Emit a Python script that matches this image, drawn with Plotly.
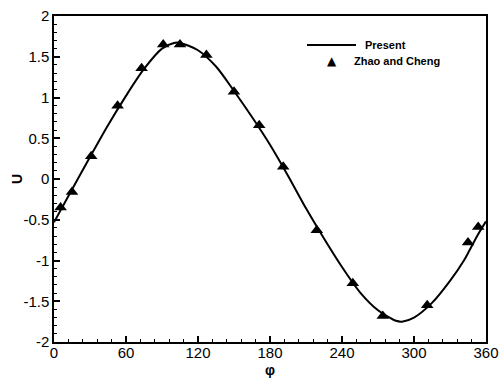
import plotly.graph_objects as go

# Present (solid curve)
present_phi = [0, 15, 30, 45, 60, 75, 90, 100, 105, 120, 135, 150, 165, 180, 195,
               210, 225, 240, 255, 270, 285, 290, 300, 315, 330, 342, 345, 353, 360]
present_u = [-0.53, -0.13, 0.27, 0.66, 1.02, 1.35, 1.60, 1.67, 1.67, 1.58, 1.38, 1.08,
             0.76, 0.42, 0.04, -0.36, -0.73, -1.08, -1.39, -1.61, -1.74, -1.75, -1.70,
             -1.52, -1.25, -0.99, -0.91, -0.69, -0.52]

# Zhao and Cheng (triangles)
zc_phi = [5.5, 15, 31, 53, 73, 91, 105, 127, 150, 171, 191, 219, 249, 274, 311, 345, 353.5]
zc_u = [-0.35, -0.16, 0.28, 0.90, 1.36, 1.65, 1.65, 1.52, 1.07, 0.66, 0.15, -0.63,
        -1.28, -1.68, -1.55, -0.78, -0.59]

x_ticks = [0, 60, 120, 180, 240, 300, 360]
y_ticks = [-2, -1.5, -1, -0.5, 0, 0.5, 1, 1.5, 2]
y_ticklabels = ["-2", "-1.5", "-1", "-0.5", "0", "0.5", "1", "1.5", "2"]

FONT = "Liberation Sans, Arial, sans-serif"

fig = go.Figure()
fig.add_trace(go.Scatter(x=present_phi, y=present_u, mode="lines", name="Present",
                         line=dict(color="black", width=2, shape="spline", smoothing=0.8),
                         showlegend=False))
fig.add_trace(go.Scatter(x=zc_phi, y=zc_u, mode="markers", name="Zhao and Cheng",
                         marker=dict(symbol="triangle-up", size=11, color="black"),
                         showlegend=False))

axis_common = dict(showline=True, linecolor="black", linewidth=1.5, mirror=True,
                   ticks="inside", ticklen=6, tickwidth=1.5, tickcolor="black",
                   showgrid=False, zeroline=False, automargin=False,
                   tickfont=dict(family=FONT, size=15, color="black"))

fig.update_xaxes(range=[0, 360], tickvals=x_ticks, ticklabelstandoff=-4,
                 minor=dict(ticks="inside", ticklen=3, tickwidth=1, tickcolor="black", dtick=12, tick0=0),
                 **axis_common)
fig.update_yaxes(range=[-2, 2], tickvals=y_ticks, ticktext=y_ticklabels,
                 minor=dict(ticks="inside", ticklen=3, tickwidth=1, tickcolor="black", dtick=0.1, tick0=0),
                 **axis_common)

# custom legend
fig.add_shape(type="line", xref="paper", yref="paper",
              x0=(307 - 54) / 432, x1=(356 - 54) / 432,
              y0=(342 - 45) / 326, y1=(342 - 45) / 326,
              line=dict(color="black", width=2))
fig.add_annotation(xref="paper", yref="paper", x=(363 - 54) / 432, y=(342 - 45) / 326,
                   text="<b>Present</b>", showarrow=False, xanchor="left", yanchor="middle",
                   font=dict(family=FONT, size=11, color="black"))
fig.add_annotation(xref="paper", yref="paper", x=(332 - 54) / 432, y=(342 - 61) / 326,
                   text="▲", showarrow=False, xanchor="center", yanchor="middle",
                   font=dict(family="DejaVu Sans", size=12, color="black"))
fig.add_annotation(xref="paper", yref="paper", x=(352 - 54) / 432, y=(342 - 61) / 326,
                   text="<b>Zhao and Cheng</b>", showarrow=False, xanchor="left", yanchor="middle",
                   font=dict(family=FONT, size=11, color="black"))

# axis titles
fig.add_annotation(xref="paper", yref="paper", x=0, xshift=-37, y=0.5,
                   text="<b>U</b>", textangle=-90, showarrow=False,
                   xanchor="center", yanchor="middle",
                   font=dict(family=FONT, size=14, color="black"))
fig.add_annotation(xref="paper", yref="paper", x=0.5, y=0, yshift=-28,
                   text="<b>φ</b>", showarrow=False,
                   xanchor="center", yanchor="middle",
                   font=dict(family=FONT, size=14, color="black"))

fig.update_layout(width=502, height=378, margin=dict(l=54, r=16, t=16, b=36),
                  paper_bgcolor="white", plot_bgcolor="white")

fig.write_html("out.html")
